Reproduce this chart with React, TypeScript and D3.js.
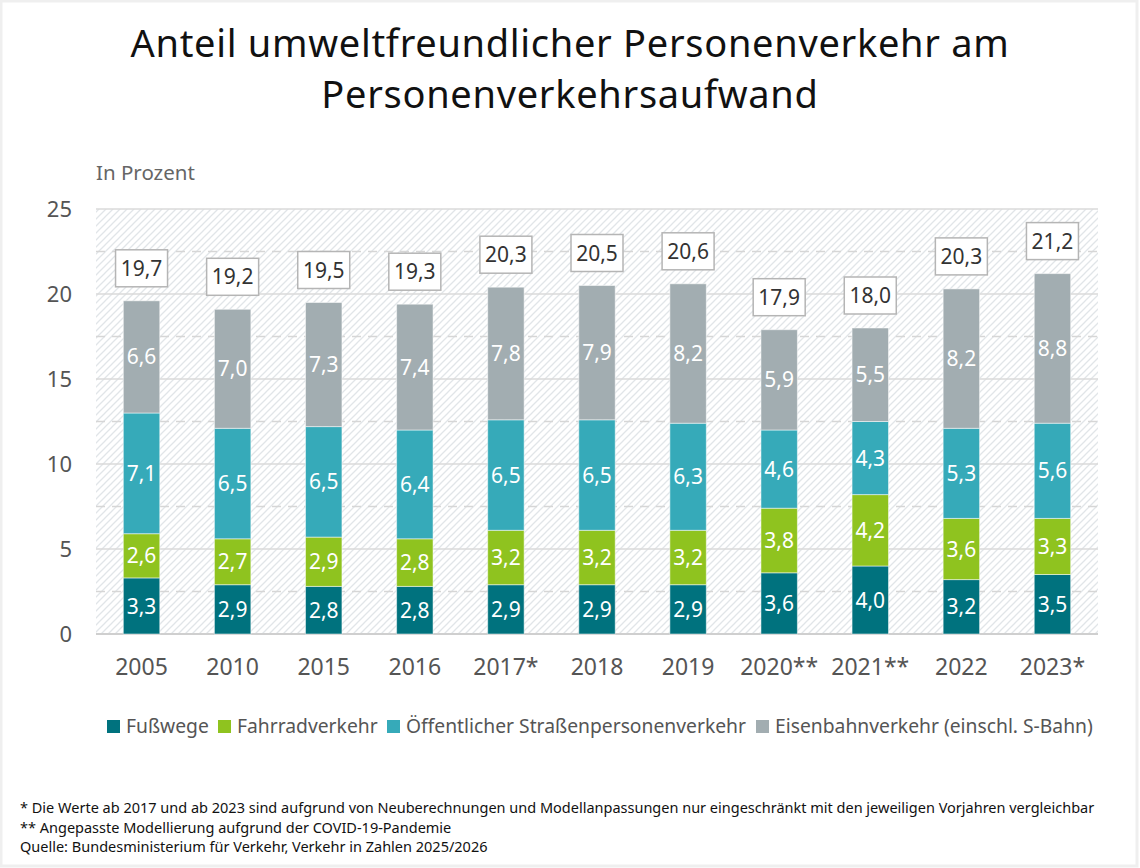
import React, { useEffect } from "react"
import * as d3 from "d3"

const years = ["2005", "2010", "2015", "2016", "2017*", "2018", "2019", "2020**", "2021**", "2022", "2023*"]
const fusswege = [3.3, 2.9, 2.8, 2.8, 2.9, 2.9, 2.9, 3.6, 4.0, 3.2, 3.5]
const fahrrad = [2.6, 2.7, 2.9, 2.8, 3.2, 3.2, 3.2, 3.8, 4.2, 3.6, 3.3]
const oespv = [7.1, 6.5, 6.5, 6.4, 6.5, 6.5, 6.3, 4.6, 4.3, 5.3, 5.6]
const eisenbahn = [6.6, 7.0, 7.3, 7.4, 7.8, 7.9, 8.2, 5.9, 5.5, 8.2, 8.8]
const totals = [19.7, 19.2, 19.5, 19.3, 20.3, 20.5, 20.6, 17.9, 18.0, 20.3, 21.2]
const yTicks = [0, 5, 10, 15, 20, 25]
const dashedTicks = [2.5, 7.5, 12.5, 17.5, 22.5]

const seriesNames = ["Fußwege", "Fahrradverkehr", "Öffentlicher Straßenpersonenverkehr", "Eisenbahnverkehr (einschl. S-Bahn)"]
const seriesValues = [fusswege, fahrrad, oespv, eisenbahn]
const colors = ["#00727e", "#8fc31f", "#36aab9", "#a2adb1"]
const legendX = [107, 218, 387, 756]

const footnotes = [
  "* Die Werte ab 2017 und ab 2023 sind aufgrund von Neuberechnungen und Modellanpassungen nur eingeschränkt mit den jeweiligen Vorjahren vergleichbar",
  "** Angepasste Modellierung aufgrund der COVID-19-Pandemie",
  "Quelle: Bundesministerium für Verkehr, Verkehr in Zahlen 2025/2026",
]

const W = 1140
const H = 868
const font = "'Noto Sans', sans-serif"
const fmt = (v: number) => v.toFixed(1).replace(".", ",")

export default function App() {
  useEffect(() => {
    document.body.style.margin = "0"
  }, [])

  const x = d3.scaleBand().domain(years).range([96, 1098]).paddingInner(0.6).paddingOuter(0.3)
  const y = d3.scaleLinear().domain([0, 25]).range([634, 209])

  const rows = years.map((yr, i) => {
    const r: any = { year: yr }
    seriesValues.forEach((s, k) => (r["s" + k] = s[i]))
    return r
  })
  const stack = d3.stack<any>().keys(seriesValues.map((_, k) => "s" + k))(rows)

  return (
    <svg width={W} height={H} style={{ display: "block", fontFamily: font }}>
      <defs>
        <pattern id="hatch" patternUnits="userSpaceOnUse" width={7} height={7}>
          <path d="M-1,1 l2,-2 M0,7 l7,-7 M6,8 l2,-2" stroke="#e1e5e8" strokeWidth={1.3} />
        </pattern>
      </defs>
      <rect x={0} y={0} width={W} height={H} fill="#fff" />
      <rect x={1} y={1} width={W - 4} height={H - 3} fill="none" stroke="#efefef" strokeWidth={3} />

      <text x={570} y={57} textAnchor="middle" fontSize={38} letterSpacing={0.7} fill="#111">
        Anteil umweltfreundlicher Personenverkehr am
      </text>
      <text x={570} y={108} textAnchor="middle" fontSize={38} letterSpacing={0.7} fill="#111">
        Personenverkehrsaufwand
      </text>
      <text x={96} y={180} fontSize={20.5} fill="#666">
        In Prozent
      </text>

      <rect x={96} y={y(25)} width={1002} height={y(0) - y(25)} fill="url(#hatch)" />
      {dashedTicks.map((t) => (
        <line key={"d" + t} x1={96} x2={1098} y1={y(t)} y2={y(t)} stroke="#d6d6d6" strokeWidth={1.5} strokeDasharray="9,7" />
      ))}
      {yTicks.map((t) => (
        <g key={"t" + t}>
          <line x1={96} x2={1098} y1={y(t)} y2={y(t)} stroke={t === 0 ? "#cfcfcf" : "#dadada"} strokeWidth={t === 0 ? 2 : 1.5} />
          <text x={72} y={y(t)} dy="0.35em" textAnchor="end" fontSize={22} fill="#555">
            {t}
          </text>
        </g>
      ))}

      {stack.map((layer, k) => (
        <g key={"l" + k}>
          {layer.map((d, i) => {
            const x0 = x(years[i]) as number
            const top = y(d[1])
            const h = y(d[0]) - y(d[1])
            return (
              <g key={i}>
                <rect x={x0} y={top} width={x.bandwidth()} height={h} fill={colors[k]} stroke="#ffffff" strokeOpacity={0.5} strokeWidth={1} />
                <text x={x0 + x.bandwidth() / 2} y={top + h / 2} dy="0.36em" textAnchor="middle" fontSize={21} fill="#fff">
                  {fmt(seriesValues[k][i])}
                </text>
              </g>
            )
          })}
        </g>
      ))}

      {years.map((yr, i) => {
        const cx = (x(yr) as number) + x.bandwidth() / 2
        const top = y(stack[3][i][1])
        return (
          <g key={"tot" + i}>
            <rect x={cx - 26} y={top - 51} width={52} height={37} fill="#fff" stroke="#b5b5b5" strokeWidth={1.5} />
            <text x={cx} y={top - 32.5} dy="0.36em" textAnchor="middle" fontSize={21} fill="#333">
              {fmt(totals[i])}
            </text>
            <text x={cx} y={675} textAnchor="middle" fontSize={23} fill="#555">
              {yr}
            </text>
          </g>
        )
      })}

      {seriesNames.map((n, k) => (
        <g key={"lg" + k}>
          <rect x={legendX[k]} y={720} width={13} height={13} fill={colors[k]} />
          <text x={legendX[k] + 19} y={726.5} dy="0.36em" fontSize={19.3} fill="#555">
            {n}
          </text>
        </g>
      ))}

      {footnotes.map((f, i) => (
        <text key={"f" + i} x={20} y={813 + i * 19.5} fontSize={14.5} fill="#111">
          {f}
        </text>
      ))}
    </svg>
  )
}
